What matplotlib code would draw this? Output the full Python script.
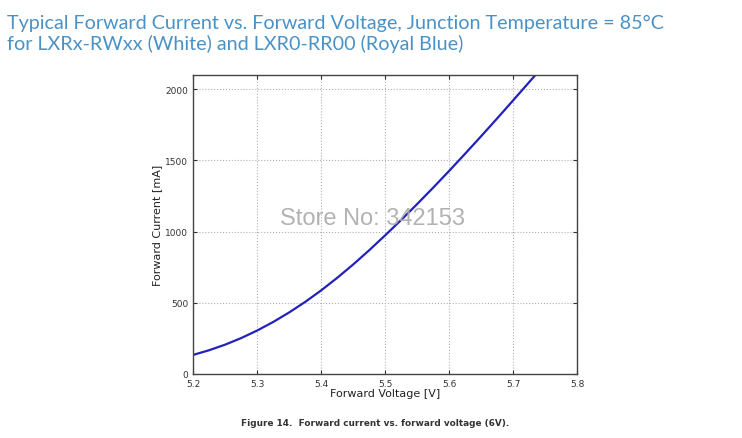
import numpy as np
import matplotlib
matplotlib.use("Agg")
import matplotlib.pyplot as plt

# values
voltage = [5.200, 5.225, 5.250, 5.275, 5.300, 5.325, 5.350, 5.375, 5.400, 5.425,
           5.450, 5.475, 5.500, 5.525, 5.550, 5.575, 5.600, 5.625, 5.650, 5.675,
           5.700, 5.725, 5.750]
current = [133, 166, 205, 251, 304, 364, 431, 505, 586, 674,
           768, 868, 973, 1081, 1193, 1308, 1426, 1547, 1670, 1795,
           1922, 2050, 2178]

x_ticks = [5.2, 5.3, 5.4, 5.5, 5.6, 5.7, 5.8]
y_ticks = [0, 500, 1000, 1500, 2000]

fig = plt.figure(figsize=(7.42, 4.39), dpi=100)
ax = fig.add_axes([0.260, 0.146, 0.518, 0.681])

ax.plot(voltage, current, color='#2222bb', linewidth=1.6, solid_joinstyle='round')
ax.set_xlim(5.2, 5.8)
ax.set_ylim(0, 2100)
ax.set_xticks(x_ticks)
ax.set_yticks(y_ticks)
ax.set_xticklabels([str(v) for v in x_ticks])
ax.tick_params(direction='in', labelsize=6.5, length=3, colors='#333333', top=True, right=True)
ax.grid(True, linestyle=':', color='#b0b0b0', linewidth=0.8)
for s in ax.spines.values():
    s.set_color('#444444')
    s.set_linewidth(1.0)
ax.set_xlabel("Forward Voltage [V]", fontsize=8, color='#222222', labelpad=0)
ax.set_ylabel("Forward Current [mA]", fontsize=8, color='#222222', labelpad=2)

fig.text(0.010, 0.935, "Typical Forward Current vs. Forward Voltage, Junction Temperature = 85°C",
         fontsize=14.2, color='#4a92c6', family='Lato')
fig.text(0.010, 0.885, "for LXRx-RWxx (White) and LXR0-RR00 (Royal Blue)",
         fontsize=14.2, color='#4a92c6', family='Lato')

fig.text(0.502, 0.50, "Store No: 342153", fontsize=17, color='#aaaaaa',
         ha='center', va='center', family='Liberation Sans', alpha=0.9)

fig.text(0.506, 0.035, "Figure 14.  Forward current vs. forward voltage (6V).",
         fontsize=6.4, color='#333333', ha='center', va='center',
         family='DejaVu Sans', fontweight='bold')

fig.savefig("out.png", dpi=100, facecolor='white')
